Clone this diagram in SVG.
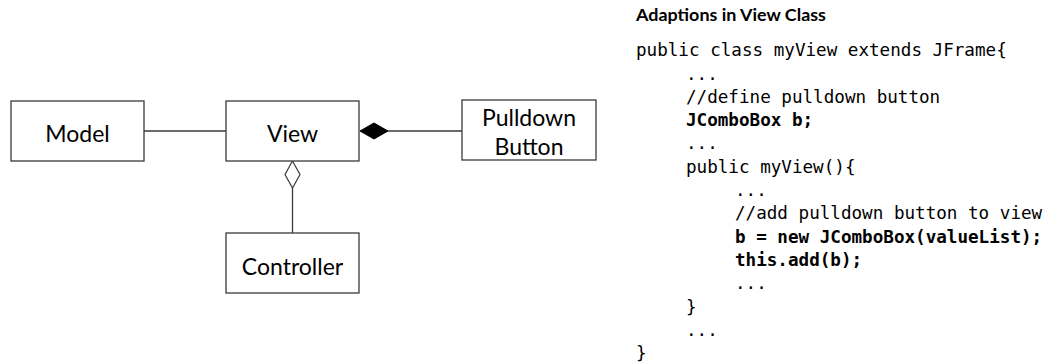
<svg xmlns="http://www.w3.org/2000/svg" width="1047" height="364" viewBox="0 0 1047 364">
<style>
.box{fill:#fff;stroke:#3a3a3a;stroke-width:1.3}
.lbl{font-family:Lato,"Open Sans","Liberation Sans",sans-serif;font-size:23px;fill:#000;text-anchor:middle}
.edge{stroke:#3a3a3a;stroke-width:1.3;fill:none}
.dfill{fill:#000;stroke:#000;stroke-width:1}
.dhollow{fill:#fff;stroke:#3a3a3a;stroke-width:1.2}
.title{font-family:Lato,"Open Sans","Liberation Sans",sans-serif;font-size:17px;font-weight:bold;fill:#000}
.code{font-family:"DejaVu Sans Mono","Liberation Mono",monospace;font-size:17.6px;fill:#000}
.b{font-weight:bold}
</style>
<rect width="1047" height="364" fill="#fff"/>
<g id="connectors">
  <line class="edge" x1="144" y1="131" x2="226" y2="131"/>
  <line class="edge" x1="388" y1="131" x2="462" y2="131"/>
  <polygon class="dfill" points="360,131 374,123 388,131 374,139"/>
  <line class="edge" x1="292.5" y1="188" x2="292.5" y2="233"/>
  <polygon class="dhollow" points="292.5,161 300,174.5 292.5,188 285,174.5"/>
</g>
<g id="model">
  <rect class="box" x="11" y="101" width="133" height="60"/>
  <text class="lbl" x="77.5" y="141.5">Model</text>
</g>
<g id="view">
  <rect class="box" x="226" y="101" width="133" height="60"/>
  <text class="lbl" x="292.5" y="141.5">View</text>
</g>
<g id="controller">
  <rect class="box" x="226" y="233" width="133" height="60"/>
  <text class="lbl" x="292.5" y="275">Controller</text>
</g>
<g id="pulldown">
  <rect class="box" x="462" y="100" width="134" height="60"/>
  <text class="lbl" x="529" y="126">Pulldown</text>
  <text class="lbl" x="529" y="155">Button</text>
</g>
<g id="code">
  <text class="title" x="636" y="21" textLength="190" lengthAdjust="spacingAndGlyphs">Adaptions in View Class</text>
  <text class="code" x="636" y="56">public class myView extends JFrame{</text>
  <text class="code" x="686" y="79.5">...</text>
  <text class="code" x="686" y="102.5">//define pulldown button</text>
  <text class="code b" x="686" y="126">JComboBox b;</text>
  <text class="code" x="686" y="149">...</text>
  <text class="code" x="686" y="172.5">public myView(){</text>
  <text class="code" x="735" y="196">...</text>
  <text class="code" x="735" y="219">//add pulldown button to view</text>
  <text class="code b" x="735" y="242.5">b = new JComboBox(valueList);</text>
  <text class="code b" x="735" y="266">this.add(b);</text>
  <text class="code" x="735" y="289">...</text>
  <text class="code" x="686" y="312.5">}</text>
  <text class="code" x="686" y="336">...</text>
  <text class="code" x="636" y="359">}</text>
</g>
</svg>
